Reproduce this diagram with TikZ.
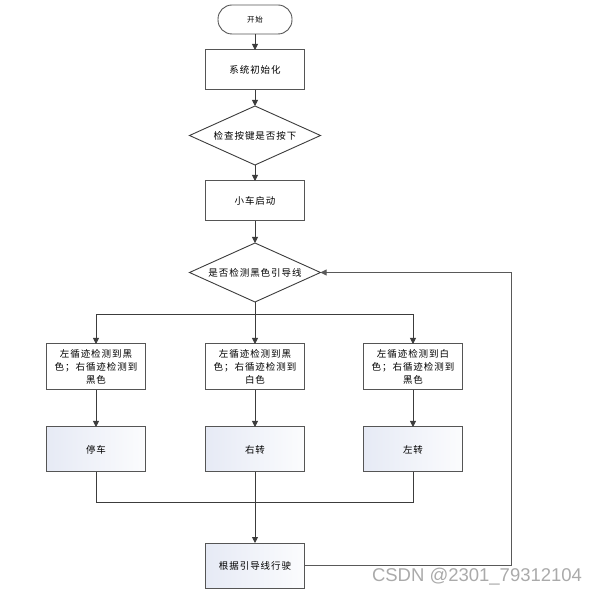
\documentclass[tikz,border=0pt]{standalone}
\usepackage{fontspec}
\usepackage{tikz}
\usetikzlibrary{shapes.geometric, arrows.meta, positioning, calc}
\newfontfamily\cjk[LetterSpace=10]{Noto Sans CJK SC}
\newfontfamily\wmfont{Liberation Sans}
\definecolor{edgegray}{RGB}{85, 85, 85}
\definecolor{linegray}{RGB}{60, 60, 60}
\definecolor{boxtint}{RGB}{230, 234, 245}
\definecolor{markgray}{RGB}{170, 170, 170}

\begin{document}
\begin{tikzpicture}[
    x=1pt, y=-1pt,
    font=\cjk\fontsize{9.5}{13}\selectfont,
    every node/.style={outer sep=0pt},
    terminal/.style={draw=edgegray, fill=white, rounded corners=14pt,
                     minimum width=74pt, minimum height=29pt, line width=0.9pt,
                     font=\cjk\fontsize{7.5}{10}\selectfont},
    box/.style={draw=edgegray, fill=white, minimum width=99pt, minimum height=40pt,
                align=center, line width=1pt, inner sep=2pt},
    condbox/.style={box, minimum height=46pt},
    actbox/.style={box, minimum height=45pt, left color=boxtint, right color=boxtint!15},
    decision/.style={draw=linegray, fill=white, diamond, aspect=2.2, inner sep=0pt,
                     minimum width=131pt, minimum height=59pt, line width=0.9pt},
    arrow/.style={-{Triangle[length=6pt, width=6pt]}, line width=0.9pt, color=linegray},
    line/.style={line width=0.9pt, color=linegray},
    fbarrow/.style={-{Triangle[length=6pt, width=6pt]}, line width=0.9pt, color=linegray!85},
]
    \useasboundingbox (0,0) rectangle (600,593);

    % Main column
    \node[terminal] (start) at (255,19.5) {开始};
    \node[box, below=16pt of start] (init) {系统初始化};
    \node[decision, below=16pt of init] (check) {检查按键是否按下};
    \node[box, below=16pt of check] (startcar) {小车启动};
    \node[decision, below=22pt of startcar] (detect) {是否检测黑色引导线};

    % Sensor cases
    \node[condbox, below=42pt of detect] (condB) {左循迹检测到黑\\色；右循迹检测到\\白色};
    \node[condbox, left=60pt of condB] (condA) {左循迹检测到黑\\色；右循迹检测到\\黑色};
    \node[condbox, right=59pt of condB] (condC) {左循迹检测到白\\色；右循迹检测到\\黑色};

    % Actions
    \node[actbox, below=37pt of condA] (stop) {停车};
    \node[actbox, below=37pt of condB] (right) {右转};
    \node[actbox, below=37pt of condC] (left) {左转};
    \node[actbox, below=71pt of right] (drive) {根据引导线行驶};

    % Helper points
    \coordinate (split) at ($(detect.south)+(0,12)$);
    \coordinate (merge) at ($(right.south)+(0,30)$);
    \coordinate (loopx) at (511,0);

    % Arrows
    \draw[arrow] (start) -- (init);
    \draw[arrow] (init) -- (check);
    \draw[arrow] (check) -- (startcar);
    \draw[arrow] (startcar) -- (detect);
    \draw[line] (detect.south) -- (split);
    \draw[arrow] (split) -| (condA);
    \draw[arrow] (split) -- (condB);
    \draw[arrow] (split) -| (condC);
    \draw[arrow] (condA) -- (stop);
    \draw[arrow] (condB) -- (right);
    \draw[arrow] (condC) -- (left);
    \draw[line] (stop) |- (merge);
    \draw[line] (left) |- (merge);
    \draw[arrow] (right) -- (drive);
    \draw[fbarrow] (drive.east) -- (drive.east -| loopx) |- (detect.east);

    % Watermark
    \node[font=\wmfont\fontsize{18.5}{20}\selectfont, text=markgray, anchor=base west,
          inner sep=0pt] (mark) at (372,581) {CSDN @2301\_79312104};
\end{tikzpicture}
\end{document}
